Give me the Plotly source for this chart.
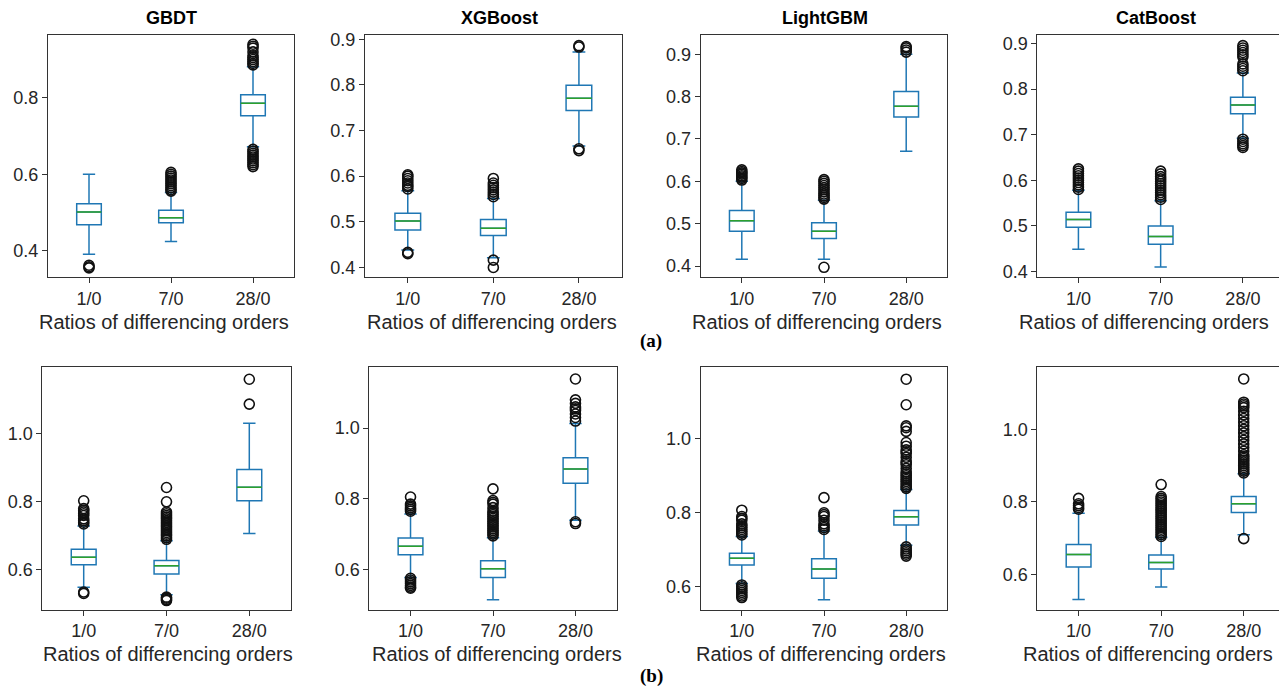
import plotly.graph_objects as go

# ---------------- data ----------------
CATEGORIES = ["1/0", "7/0", "28/0"]
MODELS = ["GBDT", "XGBoost", "LightGBM", "CatBoost"]
X_TITLE = "Ratios of differencing orders"
ROW_LABELS = ["(a)", "(b)"]

# Row (a): per model, per category
Q1_A = [[0.468, 0.473, 0.753], [0.482, 0.470, 0.744], [0.482, 0.465, 0.752], [0.497, 0.460, 0.746]]
MED_A = [[0.501, 0.486, 0.786], [0.502, 0.486, 0.771], [0.507, 0.482, 0.777], [0.514, 0.477, 0.765]]
Q3_A = [[0.523, 0.506, 0.808], [0.519, 0.505, 0.799], [0.531, 0.502, 0.812], [0.530, 0.500, 0.782]]
LO_A = [[0.391, 0.424, 0.672], [0.438, 0.421, 0.666], [0.416, 0.416, 0.671], [0.449, 0.410, 0.692]]
HI_A = [[0.600, 0.552, 0.881], [0.568, 0.551, 0.872], [0.600, 0.555, 0.900], [0.578, 0.555, 0.835]]
OUT_A = [
    [[0.355, 0.358, 0.362],
     [0.556, 0.560, 0.565, 0.570, 0.575, 0.580, 0.585, 0.590, 0.595, 0.600, 0.605],
     [0.620, 0.625, 0.630, 0.635, 0.640, 0.645, 0.650, 0.655, 0.660, 0.665,
      0.886, 0.890, 0.895, 0.900, 0.905, 0.910, 0.920, 0.930, 0.935, 0.940]],
    [[0.430, 0.433, 0.572, 0.577, 0.580, 0.585, 0.590, 0.595, 0.600, 0.603],
     [0.400, 0.416, 0.555, 0.560, 0.565, 0.570, 0.575, 0.580, 0.585, 0.595],
     [0.656, 0.660, 0.883, 0.886]],
    [[0.603, 0.607, 0.610, 0.613, 0.617, 0.620, 0.623, 0.627],
     [0.397, 0.558, 0.562, 0.566, 0.570, 0.575, 0.580, 0.585, 0.590, 0.595, 0.600, 0.604],
     [0.905, 0.910, 0.915, 0.918]],
    [[0.580, 0.585, 0.590, 0.595, 0.600, 0.605, 0.610, 0.615, 0.620, 0.625],
     [0.558, 0.563, 0.568, 0.573, 0.578, 0.583, 0.588, 0.593, 0.598, 0.603, 0.608, 0.614, 0.620],
     [0.672, 0.676, 0.680, 0.685, 0.690, 0.840, 0.845, 0.850, 0.855, 0.870, 0.875, 0.880, 0.885, 0.890, 0.895]],
]

# Row (b)
Q1_B = [[0.615, 0.588, 0.803], [0.642, 0.577, 0.844], [0.659, 0.623, 0.767], [0.621, 0.615, 0.771]]
MED_B = [[0.637, 0.612, 0.843], [0.666, 0.602, 0.884], [0.677, 0.648, 0.789], [0.655, 0.633, 0.795]]
Q3_B = [[0.661, 0.628, 0.895], [0.689, 0.625, 0.916], [0.691, 0.676, 0.806], [0.683, 0.654, 0.815]]
LO_B = [[0.549, 0.527, 0.707], [0.577, 0.514, 0.739], [0.609, 0.565, 0.712], [0.531, 0.566, 0.710]]
HI_B = [[0.729, 0.686, 1.031], [0.757, 0.690, 1.013], [0.736, 0.751, 0.863], [0.769, 0.703, 0.878]]
OUT_B = [
    [[0.531, 0.535, 0.735, 0.740, 0.745, 0.750, 0.760, 0.765, 0.770, 0.775, 0.780, 0.803],
     [0.510, 0.513, 0.517, 0.520, 0.690, 0.695, 0.700, 0.705, 0.710, 0.715, 0.720, 0.725, 0.730,
      0.735, 0.740, 0.745, 0.750, 0.755, 0.760, 0.765, 0.770, 0.800, 0.842],
     [1.087, 1.160]],
    [[0.547, 0.550, 0.555, 0.560, 0.565, 0.570, 0.575, 0.765, 0.770, 0.775, 0.780, 0.785, 0.805],
     [0.695, 0.700, 0.705, 0.710, 0.715, 0.720, 0.725, 0.730, 0.735, 0.740, 0.745, 0.750, 0.755,
      0.760, 0.765, 0.775, 0.785, 0.790, 0.795, 0.828],
     [0.730, 0.735, 1.020, 1.030, 1.040, 1.050, 1.055, 1.060, 1.070, 1.080, 1.139]],
    [[0.571, 0.575, 0.580, 0.585, 0.590, 0.595, 0.600, 0.605, 0.740, 0.745, 0.750, 0.755, 0.760,
      0.765, 0.770, 0.780, 0.785, 0.790, 0.807],
     [0.755, 0.760, 0.765, 0.770, 0.780, 0.790, 0.795, 0.800, 0.841],
     [0.683, 0.688, 0.692, 0.697, 0.702, 0.708, 0.866, 0.870, 0.875, 0.880, 0.885, 0.890, 0.895,
      0.900, 0.905, 0.910, 0.920, 0.930, 0.935, 0.940, 0.950, 0.960, 0.965, 0.970, 0.980, 0.990,
      1.020, 1.030, 1.035, 1.092, 1.161]],
    [[0.780, 0.785, 0.790, 0.795, 0.810],
     [0.705, 0.710, 0.715, 0.720, 0.725, 0.730, 0.735, 0.740, 0.745, 0.750, 0.755, 0.760, 0.765,
      0.770, 0.775, 0.780, 0.785, 0.790, 0.795, 0.800, 0.805, 0.810, 0.815, 0.848],
     [0.699, 0.880, 0.885, 0.890, 0.895, 0.900, 0.905, 0.910, 0.915, 0.920, 0.925, 0.930, 0.940,
      0.950, 0.960, 0.970, 0.980, 0.990, 1.000, 1.010, 1.020, 1.030, 1.040, 1.050, 1.060, 1.065,
      1.070, 1.075, 1.139]],
]

# ---------------- layout geometry (pixels in the 1287x693 window) ----------------
PAGE_W, PAGE_H = 1287, 693
OFF = 8  # default page body margin
W, H = PAGE_W - OFF, PAGE_H - OFF
# (left, right, top, bottom) for each panel, row a then row b
FRAMES = [
    (48, 294, 30, 276), (365, 621.7, 30, 276), (700.7, 947.3, 30, 276), (1037.3, 1284, 30, 276),
    (42.3, 290.7, 366.7, 612.7), (369.3, 616.7, 366.7, 612.7), (700.7, 947.3, 366.7, 612.7), (1037.3, 1285, 366.7, 612.7),
]
XTITLE_POS = [(164, 321), (492, 321), (817, 321), (1144, 321),
              (168, 658), (497, 658), (821, 658), (1148, 658)]
TITLE_POS = [(171, 13), (499, 13), (825, 13), (1156, 13)]
YRANGES = [
    (0.330, 0.965), (0.378, 0.910), (0.373, 0.946), (0.387, 0.919),
    (0.483, 1.196), (0.486, 1.173), (0.538, 1.194), (0.503, 1.172),
]
YDTICK = [0.2, 0.1, 0.1, 0.1, 0.2, 0.2, 0.2, 0.2]


def px_x(v):
    return (v - OFF) / W


def px_y(v):
    return 1 - (v - OFF) / H


BOX_COLOR = "#1f77b4"
MED_COLOR = "#2ca02c"
TEXT_COLOR = "#262626"
FONT = "Liberation Sans, Arial, sans-serif"
BOX_W = 0.3
POS = [1, 2, 3]

fig = go.Figure()
layout = {}
annotations = []

rows = [(Q1_A, MED_A, Q3_A, LO_A, HI_A, OUT_A), (Q1_B, MED_B, Q3_B, LO_B, HI_B, OUT_B)]
for r, (Q1, MED, Q3, LO, HI, OUT) in enumerate(rows):
    for m in range(4):
        k = r * 4 + m
        idx = "" if k == 0 else str(k + 1)
        xa, ya = "x" + idx, "y" + idx
        fig.add_trace(go.Box(
            x=POS, q1=Q1[m], median=MED[m], q3=Q3[m],
            lowerfence=LO[m], upperfence=HI[m],
            width=BOX_W, whiskerwidth=0.5, boxpoints=False,
            line=dict(color=BOX_COLOR, width=1.5), fillcolor="rgba(255,255,255,0)",
            xaxis=xa, yaxis=ya, showlegend=False, hoverinfo="skip",
        ))
        mx, my = [], []
        for p, v in zip(POS, MED[m]):
            mx += [p - BOX_W / 2, p + BOX_W / 2, None]
            my += [v, v, None]
        fig.add_trace(go.Scatter(x=mx, y=my, mode="lines", line=dict(color=MED_COLOR, width=1.5),
                                 xaxis=xa, yaxis=ya, showlegend=False, hoverinfo="skip"))
        ox, oy = [], []
        for p, vals in zip(POS, OUT[m]):
            ox += [p] * len(vals)
            oy += vals
        fig.add_trace(go.Scatter(x=ox, y=oy, mode="markers",
                                 marker=dict(symbol="circle-open", size=10, color="#111111", line=dict(width=1.6)),
                                 xaxis=xa, yaxis=ya, showlegend=False, hoverinfo="skip"))

        L, R, T, B = FRAMES[k]
        axis_common = dict(showline=True, linecolor="#333333", linewidth=1, mirror=True,
                           ticks="outside", ticklen=5, tickcolor="#333333", showgrid=False,
                           zeroline=False, tickfont=dict(family=FONT, size=18, color=TEXT_COLOR))
        layout["xaxis" + idx] = dict(
            axis_common, domain=[px_x(L), px_x(R)], anchor=ya, range=[0.5, 3.5],
            tickmode="array", tickvals=POS, ticktext=CATEGORIES,
        )
        layout["yaxis" + idx] = dict(
            axis_common, domain=[px_y(B), px_y(T)], anchor=xa, range=list(YRANGES[k]),
            tick0=0, dtick=YDTICK[k], tickformat=".1f",
        )
        tx, ty = XTITLE_POS[k]
        annotations.append(dict(text=X_TITLE, x=px_x(tx), y=px_y(ty), xref="paper", yref="paper",
                                xanchor="center", yanchor="middle", showarrow=False,
                                font=dict(family=FONT, size=20, color=TEXT_COLOR)))

for m, name in enumerate(MODELS):
    tx, ty = TITLE_POS[m]
    annotations.append(dict(text="<b>%s</b>" % name, x=px_x(tx), y=px_y(ty), xref="paper", yref="paper",
                            xanchor="center", yanchor="middle", showarrow=False,
                            font=dict(family=FONT, size=18, color="#000000")))
for r, lab in enumerate(ROW_LABELS):
    annotations.append(dict(text="<b>%s</b>" % lab, x=px_x(651), y=px_y(340 if r == 0 else 680),
                            xref="paper", yref="paper", xanchor="center", yanchor="middle", showarrow=False,
                            font=dict(family="Liberation Serif, Times New Roman, serif", size=19, color="#000000")))

fig.update_layout(width=W, height=H, margin=dict(l=0, r=0, t=0, b=0),
                  paper_bgcolor="white", plot_bgcolor="white", annotations=annotations, **layout)
fig.write_html("out.html")
